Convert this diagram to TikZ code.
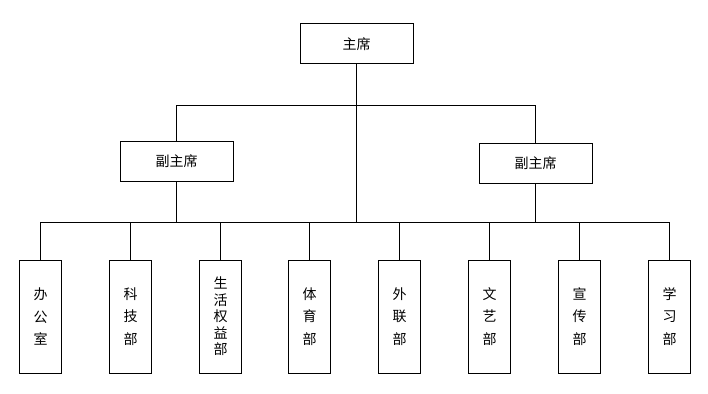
\documentclass[tikz,border=0pt]{standalone}
\usepackage{fontspec}
\newfontfamily\cjk{Noto Sans CJK SC}
\tikzset{
  hbox/.style={draw, line width=1pt, inner sep=0pt, minimum width=113pt, minimum height=40pt, font=\cjk\fontsize{14}{16}\selectfont},
  vbox/.style={draw, line width=1pt, inner sep=0pt, minimum width=42.5pt, minimum height=113pt, align=center, font=\cjk\fontsize{14}{22.5}\selectfont},
  vboxtight/.style={vbox, font=\cjk\fontsize{14}{16.5}\selectfont},
  link/.style={line width=1pt}
}
\begin{document}
\begin{tikzpicture}[x=1pt,y=-1pt]
\useasboundingbox (0,0) rectangle (708,393);
\node[hbox] (top) at (356.5,44) {主席};
\node[hbox] (vp1) at (176.5,161) {副主席};
\node[hbox] (vp2) at (535.5,163) {副主席};
\node[vbox] (b1) at (40.5,316.5) {办\\公\\室};
\node[vbox] (b2) at (130.5,316.5) {科\\技\\部};
\node[vboxtight] (b3) at (220.5,316.5) {生\\活\\权\\益\\部};
\node[vbox] (b4) at (309.5,316.5) {体\\育\\部};
\node[vbox] (b5) at (399.5,316.5) {外\\联\\部};
\node[vbox] (b6) at (489.5,316.5) {文\\艺\\部};
\node[vbox] (b7) at (579.5,316.5) {宣\\传\\部};
\node[vbox] (b8) at (669.5,316.5) {学\\习\\部};
\coordinate (upbus) at (0,105);
\coordinate (bus) at (0,222);
% upper level
\draw[link] (vp1.north) -- (vp1.north |- upbus) -- (vp2.north |- upbus) -- (vp2.north);
\draw[link] (top.south) -- (top.south |- bus);
\draw[link] (vp1.south) -- (vp1.south |- bus);
\draw[link] (vp2.south) -- (vp2.south |- bus);
% lower bus
\draw[link] (b1.north |- bus) -- (b8.north |- bus);
\foreach \b in {b1,b2,b3,b4,b5,b6,b7,b8}
  \draw[link] (\b.north) -- (\b.north |- bus);
\end{tikzpicture}
\end{document}
